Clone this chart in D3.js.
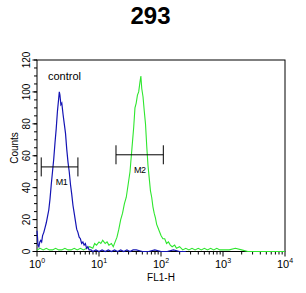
<!DOCTYPE html>
<html>
<head>
<meta charset="utf-8">
<script src="https://cdn.jsdelivr.net/npm/d3@7"></script>
<style>
  body { margin: 0; background: #fff; }
  svg { display: block; font-family: Arial, "Liberation Sans", sans-serif; }
</style>
</head>
<body>
<div id="chart"></div>
<script>
// histogram positions are in decades (log10 of FL1-H), counts on y
const blueDecade = [0.000,0.008,0.016,0.03,0.045,0.06,0.075,0.09,0.11,0.13,0.15,0.17,0.19,0.21,0.23,0.25,0.27,0.29,0.31,0.33,0.345,0.36,0.37,0.385,0.40,0.42,0.44,0.46,0.48,0.50,0.52,0.54,0.56,0.58,0.60,0.62,0.64,0.66,0.68,0.70,0.72,0.74,0.76,0.78,0.80,0.82,0.84,0.87,0.90,0.95,1.00,1.05,1.10,1.15,1.20,1.25,1.30,1.35,1.40,1.45,1.50,1.55,1.60,1.70,1.80,1.90,2.00,2.10,2.20,2.30,2.40];
const blueCounts = [13,9,4,3,6,7,6,10,12,15,18,22,26,33,42,50,58,68,77,88,94,100,98,92,93,86,80,74,64,56,50,42,36,29,24,19,14,12,9,8,5,6,4,5,2,3,1,1,0,1,0,1,0,1,0,1,0,1,0,1,0,1,1,0,0,1,0,0,1,0,0];

const greenDecade = [0.00,0.05,0.10,0.15,0.20,0.25,0.30,0.35,0.40,0.45,0.50,0.55,0.60,0.65,0.70,0.75,0.80,0.85,0.90,0.93,0.96,1.00,1.03,1.06,1.10,1.13,1.16,1.20,1.23,1.26,1.29,1.32,1.35,1.38,1.41,1.44,1.47,1.50,1.53,1.56,1.58,1.60,1.62,1.64,1.66,1.675,1.69,1.71,1.73,1.75,1.77,1.79,1.81,1.83,1.85,1.87,1.89,1.91,1.93,1.95,1.97,2.00,2.03,2.06,2.09,2.12,2.15,2.18,2.22,2.25,2.30,2.35,2.40,2.45,2.50,2.55,2.60,2.65,2.70,2.75,2.80,2.85,2.90,2.95,3.00,3.10,3.20,3.30,3.40,3.60,4.00];
const greenCounts = [1,2,1,2,1,1,2,1,1,2,1,1,2,1,2,1,2,3,2,5,4,6,5,7,5,6,4,5,3,6,9,14,20,24,30,34,42,50,64,78,90,93,98,100,106,110,102,97,88,80,66,54,46,38,34,28,24,21,17,15,13,10,8,8,5,6,4,3,4,2,3,1,2,1,2,1,2,1,2,1,2,1,2,1,1,1,2,1,0,0,0];

const markerLabels = ['M1', 'M2'];
const markerLo = [1.17, 18.8];
const markerHi = [4.57, 109];
const markerCount = [53, 60.6];

const yTicks = [0, 20, 40, 60, 80, 100, 120];
const xDecades = [0, 1, 2, 3, 4];

const width = 306, height = 293;
const svg = d3.select('#chart').append('svg').attr('width', width).attr('height', height);

const x = d3.scaleLog().domain([1, 10000]).range([37, 285]);
const y = d3.scaleLinear().domain([0, 120]).range([251.5, 60]);

// title
svg.append('text').attr('x', 150.5).attr('y', 24).attr('text-anchor', 'middle')
  .style('font-size', '24px').style('font-weight', 'bold').text('293');

// frame
const frame = svg.append('g').attr('stroke', '#000').attr('stroke-width', 1).attr('fill', 'none');
frame.append('rect').attr('x', x(1)).attr('y', y(120)).attr('width', x(10000) - x(1)).attr('height', y(0) - y(120));

// y axis ticks
const yMinor = d3.range(0, 121, 5);
frame.selectAll('line.ym').data(yMinor).enter().append('line')
  .attr('x1', x(1) - 3).attr('x2', x(1))
  .attr('y1', d => y(d)).attr('y2', d => y(d));
frame.selectAll('line.yM').data(yTicks).enter().append('line')
  .attr('x1', x(1) - 4.5).attr('x2', x(1))
  .attr('y1', d => y(d)).attr('y2', d => y(d));

svg.selectAll('text.ylab').data(yTicks).enter().append('text')
  .attr('class', 'ylab')
  .attr('transform', d => 'translate(30,' + y(d) + ') rotate(-90)')
  .attr('text-anchor', 'middle')
  .style('font-size', '10px')
  .text(d => d);

svg.append('text').attr('transform', 'translate(18,148) rotate(-90)')
  .attr('text-anchor', 'middle').style('font-size', '10px').text('Counts');

// x axis ticks (log minors)
const xMinor = [];
for (let dcd = 0; dcd < 4; dcd++) {
  for (let k = 2; k <= 9; k++) xMinor.push(k * Math.pow(10, dcd));
}
frame.selectAll('line.xm').data(xMinor).enter().append('line')
  .attr('x1', d => x(d)).attr('x2', d => x(d))
  .attr('y1', y(0)).attr('y2', y(0) + 3);
frame.selectAll('line.xM').data(xDecades).enter().append('line')
  .attr('x1', d => x(Math.pow(10, d))).attr('x2', d => x(Math.pow(10, d)))
  .attr('y1', y(0)).attr('y2', y(0) + 5);

const xl = svg.selectAll('text.xlab').data(xDecades).enter().append('text')
  .attr('class', 'xlab')
  .attr('x', d => x(Math.pow(10, d)))
  .attr('y', 268)
  .attr('text-anchor', 'middle')
  .style('font-size', '11px');
xl.append('tspan').text('10');
xl.append('tspan').attr('dy', -5).style('font-size', '7px').text(d => d);

svg.append('text').attr('x', x(100)).attr('y', 281).attr('text-anchor', 'middle')
  .style('font-size', '10px').text('FL1-H');

// histograms
const line = d3.line()
  .x(d => x(Math.pow(10, d[0])))
  .y(d => y(d[1]));

svg.append('path')
  .datum(greenDecade.map((d, i) => [d, greenCounts[i]]))
  .attr('d', line).attr('fill', 'none').attr('stroke', '#2ee62e').attr('stroke-width', 1.1);

svg.append('path')
  .datum(blueDecade.map((d, i) => [d, blueCounts[i]]))
  .attr('d', line).attr('fill', 'none').attr('stroke', '#1414b4').attr('stroke-width', 1.2);

// markers
const mk = svg.selectAll('g.marker').data(markerLabels).enter().append('g')
  .attr('class', 'marker').attr('stroke', '#000').attr('stroke-width', 1);
mk.append('line')
  .attr('x1', (d, i) => x(markerLo[i])).attr('x2', (d, i) => x(markerHi[i]))
  .attr('y1', (d, i) => y(markerCount[i])).attr('y2', (d, i) => y(markerCount[i]));
mk.append('line')
  .attr('x1', (d, i) => x(markerLo[i])).attr('x2', (d, i) => x(markerLo[i]))
  .attr('y1', (d, i) => y(markerCount[i]) - 9.5).attr('y2', (d, i) => y(markerCount[i]) + 9.5);
mk.append('line')
  .attr('x1', (d, i) => x(markerHi[i])).attr('x2', (d, i) => x(markerHi[i]))
  .attr('y1', (d, i) => y(markerCount[i]) - 9.5).attr('y2', (d, i) => y(markerCount[i]) + 9.5);
mk.append('text')
  .attr('stroke', 'none')
  .attr('x', (d, i) => (x(markerLo[i]) + x(markerHi[i])) / 2 + (i === 0 ? 2 : 0))
  .attr('y', (d, i) => y(markerCount[i]) + 18)
  .attr('text-anchor', 'middle')
  .style('font-size', '9px')
  .style('letter-spacing', '-0.5px')
  .text(d => d);

svg.append('text').attr('x', 48).attr('y', 80).style('font-size', '11px').text('control');
</script>
</body>
</html>
